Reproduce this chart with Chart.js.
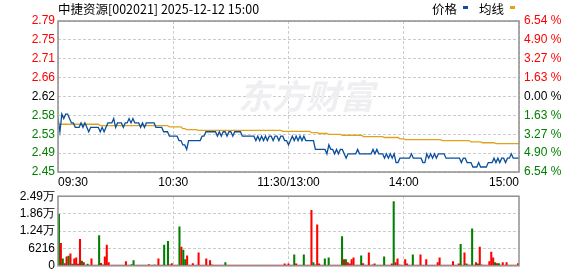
<!DOCTYPE html>
<html>
<head>
<meta charset="utf-8">
<script src="https://cdn.jsdelivr.net/npm/chart.js@4.4.0/dist/chart.umd.min.js"></script>
<style>
  body { margin: 0; background: #fff; }
  #wrap { position: relative; width: 578px; height: 276px; overflow: hidden; }
  #price-chart { position: absolute; left: 0; top: 0; }
  #vol-chart { position: absolute; left: 0; top: 186px; }
</style>
</head>
<body>
<div id="wrap">
  <canvas id="price-chart" width="578" height="195"></canvas>
  <canvas id="vol-chart" width="578" height="90"></canvas>
</div>
<script>
// title + legend
const titleText = "中捷资源[002021] 2025-12-12 15:00";
const legendNames = ["价格", "均线"];
const watermarkText = "东方财富";

// axis labels
const prevClose = 2.62;
const pctSteps = [-6.54, -4.90, -3.27, -1.63, 0, 1.63, 3.27, 4.90, 6.54];
const priceLabels = ["2.45", "2.49", "2.53", "2.58", "2.62", "2.66", "2.71", "2.75", "2.79"];
const pctLabels = ["6.54 %", "4.90 %", "3.27 %", "1.63 %", "0.00 %", "1.63 %", "3.27 %", "4.90 %", "6.54 %"];
const timeTicks = [0, 60, 120, 180, 240];
const timeLabels = ["09:30", "10:30", "11:30/13:00", "14:00", "15:00"];
const volTicks = [0, 6216, 12432, 18648, 24864];
const volLabels = ["0", "6216", "1.24万", "1.86万", "2.49万"];

// minute prices, 241 points (09:30 .. 15:00)
const prices = [
  2.57,2.54,2.58,2.57,2.58,2.58,2.57,2.56,2.56,2.55,
  2.55,2.55,2.56,2.55,2.56,2.55,2.54,2.55,2.55,2.55,
  2.55,2.55,2.54,2.55,2.54,2.55,2.56,2.56,2.56,2.57,
  2.55,2.56,2.56,2.56,2.55,2.56,2.56,2.57,2.56,2.57,
  2.56,2.56,2.56,2.55,2.56,2.55,2.56,2.56,2.56,2.56,
  2.56,2.55,2.55,2.55,2.55,2.54,2.54,2.54,2.53,2.53,
  2.53,2.53,2.53,2.52,2.52,2.51,2.51,2.50,2.52,2.52,
  2.52,2.52,2.52,2.52,2.52,2.53,2.53,2.54,2.54,2.54,
  2.54,2.54,2.54,2.53,2.54,2.53,2.54,2.54,2.53,2.54,
  2.54,2.53,2.54,2.54,2.54,2.54,2.53,2.53,2.53,2.53,
  2.53,2.53,2.53,2.52,2.53,2.52,2.53,2.52,2.53,2.52,
  2.53,2.53,2.52,2.53,2.53,2.52,2.53,2.53,2.52,2.52,
  2.51,2.52,2.53,2.52,2.53,2.52,2.53,2.52,2.53,2.52,
  2.52,2.52,2.52,2.52,2.50,2.50,2.50,2.50,2.50,2.50,
  2.49,2.51,2.50,2.50,2.49,2.50,2.49,2.50,2.50,2.49,
  2.48,2.49,2.49,2.49,2.49,2.49,2.50,2.49,2.49,2.49,
  2.49,2.49,2.49,2.49,2.50,2.49,2.50,2.49,2.49,2.49,
  2.48,2.49,2.48,2.49,2.48,2.49,2.47,2.47,2.48,2.48,
  2.48,2.48,2.48,2.48,2.49,2.48,2.48,2.48,2.48,2.48,
  2.47,2.47,2.49,2.48,2.49,2.48,2.49,2.48,2.49,2.49,
  2.49,2.49,2.48,2.48,2.48,2.48,2.48,2.48,2.48,2.48,
  2.47,2.48,2.48,2.47,2.47,2.47,2.46,2.46,2.46,2.47,
  2.46,2.46,2.46,2.46,2.47,2.47,2.47,2.48,2.47,2.48,
  2.47,2.48,2.48,2.47,2.48,2.48,2.49,2.48,2.48,2.48,
  2.48
];

// average price line
const avgPrices = [
  2.557,2.557,2.557,2.557,2.557,2.557,2.557,2.557,2.557,2.557,
  2.557,2.557,2.557,2.557,2.557,2.557,2.557,2.557,2.557,2.557,
  2.557,2.557,2.554,2.554,2.554,2.554,2.554,2.554,2.554,2.554,
  2.554,2.554,2.554,2.554,2.554,2.554,2.554,2.554,2.554,2.554,
  2.554,2.554,2.554,2.554,2.554,2.554,2.554,2.554,2.554,2.554,
  2.554,2.554,2.554,2.554,2.554,2.554,2.554,2.554,2.551,2.551,
  2.551,2.551,2.551,2.551,2.551,2.547,2.547,2.545,2.545,2.545,
  2.545,2.545,2.545,2.543,2.543,2.543,2.543,2.543,2.543,2.543,
  2.543,2.543,2.543,2.543,2.543,2.543,2.543,2.543,2.543,2.543,
  2.543,2.543,2.543,2.543,2.543,2.543,2.543,2.543,2.543,2.543,
  2.543,2.543,2.543,2.543,2.543,2.543,2.543,2.543,2.543,2.543,
  2.543,2.543,2.543,2.543,2.543,2.543,2.543,2.541,2.541,2.541,
  2.541,2.541,2.541,2.541,2.541,2.541,2.541,2.541,2.541,2.541,
  2.541,2.541,2.538,2.538,2.538,2.538,2.536,2.536,2.536,2.536,
  2.536,2.534,2.534,2.534,2.534,2.534,2.534,2.534,2.532,2.532,
  2.532,2.532,2.532,2.532,2.532,2.532,2.532,2.532,2.532,2.529,
  2.529,2.529,2.529,2.529,2.529,2.529,2.529,2.529,2.529,2.529,
  2.527,2.527,2.527,2.527,2.527,2.527,2.527,2.527,2.524,2.524,
  2.524,2.522,2.522,2.522,2.522,2.522,2.522,2.522,2.522,2.522,
  2.522,2.522,2.522,2.522,2.522,2.522,2.522,2.522,2.522,2.522,
  2.520,2.520,2.520,2.520,2.520,2.520,2.520,2.520,2.520,2.520,
  2.520,2.520,2.520,2.520,2.520,2.517,2.517,2.517,2.517,2.517,
  2.517,2.515,2.515,2.515,2.515,2.515,2.515,2.515,2.513,2.513,
  2.513,2.513,2.513,2.513,2.513,2.513,2.513,2.513,2.513,2.513,
  2.513
];

// minute volumes (shares)
const volumes = [
  18400,8050,2530,800,3220,3450,4255,575,2530,2875,
  575,9430,1725,1150,300,575,300,2530,300,300,
  300,10810,920,345,3220,7360,1150,300,300,300,
  300,300,300,300,300,1500,300,300,460,1840,
  300,300,300,300,300,300,300,460,300,300,
  345,300,2530,300,300,7360,300,8740,345,800,
  300,300,300,13900,6670,5635,2185,3565,300,300,
  800,300,300,4600,300,300,300,2530,300,1840,
  345,300,300,300,300,300,300,1150,300,300,
  300,300,300,300,300,300,300,300,300,300,
  300,300,300,300,300,300,300,300,300,300,
  300,300,300,300,300,300,300,300,690,300,
  690,300,300,3900,690,300,300,300,3900,300,
  300,300,19780,1150,345,14600,690,300,300,2530,
  300,2875,300,300,300,300,300,300,10465,2185,
  2185,1150,690,2185,2875,300,300,300,3565,800,
  300,300,4600,300,345,690,300,300,300,300,
  3220,300,300,300,690,22900,1150,2530,345,300,
  300,2185,690,300,300,3900,300,300,300,3900,
  300,300,2185,300,300,300,300,300,1150,2875,
  300,300,300,300,300,300,1500,300,300,690,
  7700,300,4600,690,345,300,13200,300,1150,690,
  6670,345,300,300,300,1500,4945,2875,1150,800,
  800,300,1150,300,1150,300,300,300,300,300,
  800
];
// minutes whose volume bar is green (price down)
const downMinutes = [0,2,5,7,12,14,15,21,23,30,34,38,39,43,50,55,57,63,65,66,87,
  95,104,112,123,126,128,133,139,141,148,150,158,164,167,170,175,185,193,210,213,216,219,228,230];

const RED = "#ff0000";
const GREEN = "#008000";
const GRID = "#cccccc";
const FONT = { family: "Liberation Sans", size: 12 };

const priceMin = prevClose * (1 + pctSteps[0] / 100);
const priceMax = prevClose * (1 + pctSteps[pctSteps.length - 1] / 100);

function tickColor(ctx) {
  if (ctx.index < 4) return GREEN;
  if (ctx.index === 4) return "#000";
  return RED;
}

// solid frame around the plot area
const framePlugin = {
  id: "frame",
  afterDraw(chart) {
    const a = chart.chartArea;
    const ctx = chart.ctx;
    ctx.save();
    ctx.strokeStyle = "#909090";
    ctx.lineWidth = 1.5;
    ctx.strokeRect(a.left, a.top, a.right - a.left, a.bottom - a.top);
    ctx.restore();
  }
};

// title, legend and faint watermark
const headerPlugin = {
  id: "header",
  beforeDatasetsDraw(chart) {
    const ctx = chart.ctx;
    ctx.save();
    ctx.font = 'bold italic 34px "Noto Sans CJK SC"';
    ctx.fillStyle = "#efeff2";
    ctx.textBaseline = "middle";
    ctx.fillText(watermarkText, 238, 96);
    ctx.restore();
  },
  afterDraw(chart) {
    const ctx = chart.ctx;
    ctx.save();
    ctx.font = '12.5px "Noto Sans CJK SC"';
    ctx.fillStyle = "#000";
    ctx.textBaseline = "middle";
    ctx.fillText(titleText, 58, 9);

    const colors = ["#0a4f9e", "#e0a21c"];
    let x = 432;
    legendNames.forEach((name, i) => {
      ctx.fillStyle = "#000";
      ctx.fillText(name, x, 9);
      x += ctx.measureText(name).width + 6;
      ctx.fillStyle = colors[i];
      ctx.fillRect(x, 6, 5, 3);
      x += 16;
    });
    ctx.restore();
  }
};

new Chart(document.getElementById("price-chart"), {
  type: "line",
  data: {
    datasets: [
      {
        label: legendNames[0],
        data: prices.map((p, i) => ({ x: i, y: p })),
        borderColor: "#0a4f9e",
        borderWidth: 1.3,
        pointRadius: 0,
        tension: 0,
      },
      {
        label: legendNames[1],
        data: avgPrices.map((p, i) => ({ x: i, y: p })),
        borderColor: "#e0a21c",
        borderWidth: 1.3,
        pointRadius: 0,
        tension: 0,
      },
    ],
  },
  options: {
    responsive: false,
    animation: false,
    devicePixelRatio: 1,
    layout: { padding: { top: 21 } },
    plugins: { legend: { display: false }, tooltip: { enabled: false } },
    scales: {
      x: {
        type: "linear",
        min: 0,
        max: 240,
        afterBuildTicks: (s) => { s.ticks = timeTicks.map((v) => ({ value: v })); },
        afterFit: (s) => { s.height = 23; },
        ticks: {
          callback: (v, i) => timeLabels[i],
          align: "inner",
          autoSkip: false,
          maxRotation: 0,
          color: "#000",
          font: FONT,
          padding: 3,
        },
        grid: { color: GRID, drawTicks: false },
        border: { display: false, dash: [3, 2] },
      },
      y: {
        position: "left",
        min: priceMin,
        max: priceMax,
        afterBuildTicks: (s) => {
          s.ticks = pctSteps.map((p) => ({ value: prevClose * (1 + p / 100) }));
        },
        afterFit: (s) => { s.width = 58; },
        ticks: {
          callback: (v, i) => priceLabels[i],
          autoSkip: false,
          color: tickColor,
          font: FONT,
          padding: 3,
        },
        grid: { color: GRID, drawTicks: false },
        border: { display: false, dash: [3, 2] },
      },
      y2: {
        position: "right",
        min: priceMin,
        max: priceMax,
        afterBuildTicks: (s) => {
          s.ticks = pctSteps.map((p) => ({ value: prevClose * (1 + p / 100) }));
        },
        afterFit: (s) => { s.width = 59; },
        ticks: {
          callback: (v, i) => pctLabels[i],
          autoSkip: false,
          color: tickColor,
          font: FONT,
          padding: 5,
        },
        grid: { display: false, drawTicks: false },
        border: { display: false },
      },
    },
  },
  plugins: [framePlugin, headerPlugin],
});

new Chart(document.getElementById("vol-chart"), {
  type: "bar",
  data: {
    datasets: [
      {
        data: volumes.map((v, i) => ({ x: i, y: v })),
        backgroundColor: volumes.map((v, i) => (downMinutes.includes(i) ? GREEN : RED)),
        barThickness: 1.4,
      },
    ],
  },
  options: {
    responsive: false,
    animation: false,
    devicePixelRatio: 1,
    layout: { padding: { top: 10, bottom: 4, right: 59 } },
    plugins: { legend: { display: false }, tooltip: { enabled: false } },
    scales: {
      x: {
        type: "linear",
        offset: false,
        min: -0.5,
        max: 240.5,
        afterBuildTicks: (s) => { s.ticks = timeTicks.slice(1, 4).map((v) => ({ value: v })); },
        afterFit: (s) => { s.height = 0; },
        ticks: { display: false },
        grid: { color: GRID, drawTicks: false, offset: false },
        border: { display: false, dash: [3, 2] },
      },
      y: {
        min: 0,
        max: volTicks[volTicks.length - 1],
        afterBuildTicks: (s) => { s.ticks = volTicks.map((v) => ({ value: v })); },
        afterFit: (s) => { s.width = 58; },
        ticks: {
          callback: (v, i) => volLabels[i],
          autoSkip: false,
          color: "#000",
          font: FONT,
          padding: 3,
        },
        grid: { color: GRID, drawTicks: false },
        border: { display: false, dash: [3, 2] },
      },
    },
  },
  plugins: [framePlugin],
});
</script>
</body>
</html>
